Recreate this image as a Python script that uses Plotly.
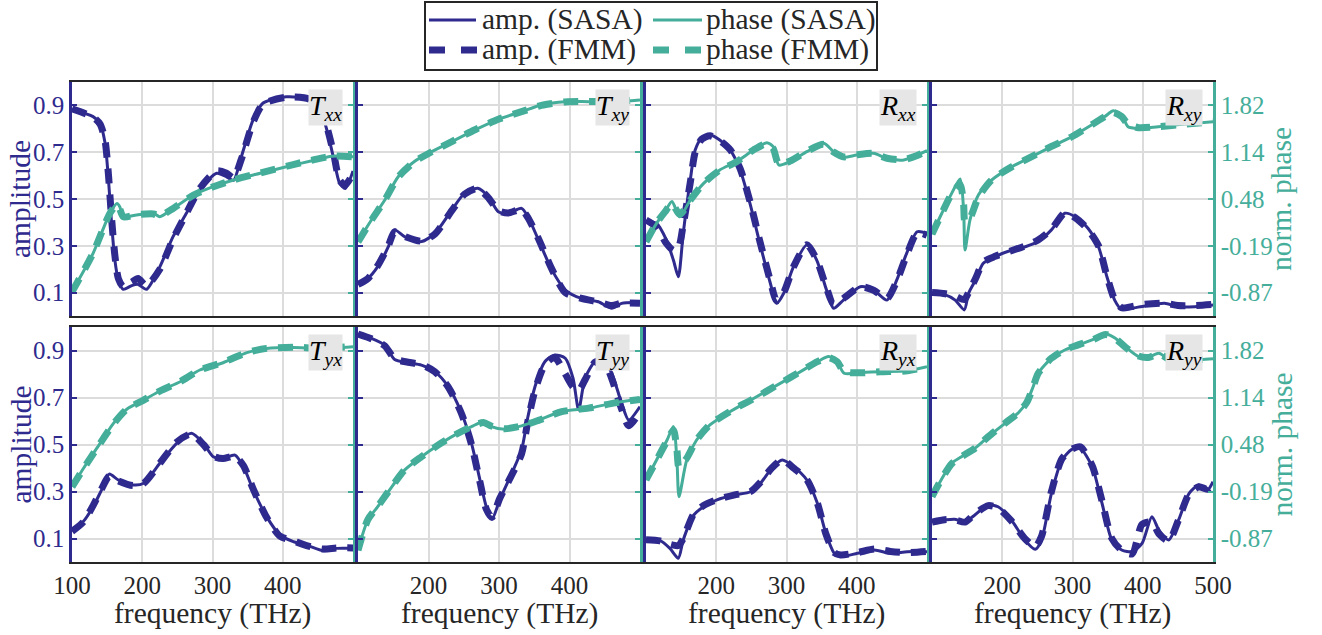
import plotly.graph_objects as go

# ---------------------------------------------------------------- data
# frequency in THz, amplitude in [0, 1], phase in normalised units

# T_xx
txx_f_amp = [100, 130, 140, 147, 152, 156, 161, 166, 173, 185, 194, 206, 225, 244, 263, 282, 306, 320, 330, 341, 358, 372, 405, 439, 458, 472, 481, 489, 500]
txx_amp_sasa = [0.883, 0.852, 0.823, 0.74, 0.58, 0.41, 0.24, 0.154, 0.114, 0.13, 0.135, 0.114, 0.21, 0.34, 0.44, 0.54, 0.61, 0.595, 0.58, 0.68, 0.84, 0.91, 0.937, 0.923, 0.84, 0.68, 0.567, 0.545, 0.62]
txx_amp_fmm = [0.885, 0.85, 0.82, 0.75, 0.6, 0.43, 0.26, 0.16, 0.125, 0.145, 0.16, 0.13, 0.2, 0.33, 0.44, 0.545, 0.62, 0.61, 0.59, 0.67, 0.83, 0.905, 0.935, 0.925, 0.85, 0.7, 0.58, 0.56, 0.61]
txx_f_ph = [100, 130, 154, 164, 168, 173, 192, 216, 225, 244, 273, 301, 330, 368, 415, 440, 470, 500]
txx_ph_sasa = [-0.856, -0.305, 0.27, 0.41, 0.365, 0.22, 0.246, 0.27, 0.22, 0.34, 0.533, 0.653, 0.748, 0.845, 0.963, 1.02, 1.09, 1.083]
txx_ph_fmm = [-0.86, -0.3, 0.27, 0.39, 0.33, 0.22, 0.25, 0.26, 0.23, 0.34, 0.53, 0.65, 0.75, 0.85, 0.97, 1.03, 1.09, 1.08]

# T_xy
txy_f_amp = [100, 114, 128, 143, 152, 166, 190, 209, 233, 251, 270, 285, 299, 313, 332, 341, 356, 375, 394, 417, 441, 460, 474, 500]
txy_amp_sasa = [0.14, 0.161, 0.211, 0.296, 0.368, 0.339, 0.318, 0.353, 0.453, 0.524, 0.546, 0.51, 0.446, 0.439, 0.46, 0.424, 0.325, 0.197, 0.111, 0.075, 0.061, 0.033, 0.054, 0.057]
txy_amp_fmm = [0.135, 0.16, 0.215, 0.3, 0.36, 0.34, 0.32, 0.35, 0.45, 0.52, 0.545, 0.505, 0.45, 0.44, 0.455, 0.42, 0.33, 0.2, 0.1, 0.075, 0.06, 0.045, 0.055, 0.055]
txy_f_ph = [100, 119, 138, 157, 180, 204, 233, 266, 299, 332, 360, 394, 427, 465, 500]
txy_ph_sasa = [-0.137, 0.173, 0.46, 0.795, 1.013, 1.155, 1.299, 1.467, 1.619, 1.73, 1.826, 1.874, 1.874, 1.874, 1.897]
txy_ph_fmm = [-0.14, 0.17, 0.46, 0.79, 1.01, 1.15, 1.3, 1.47, 1.62, 1.73, 1.82, 1.87, 1.875, 1.88, 1.9]

# R_xx
rxx_f_amp = [100, 115, 129, 139, 146, 153, 163, 170, 179, 191, 205, 220, 234, 248, 262, 277, 286, 296, 310, 329, 343, 357, 367, 381, 405, 424, 443, 457, 471, 486, 500]
rxx_amp_sasa = [0.403, 0.396, 0.325, 0.239, 0.168, 0.353, 0.581, 0.709, 0.759, 0.773, 0.752, 0.709, 0.624, 0.481, 0.311, 0.14, 0.054, 0.097, 0.211, 0.303, 0.239, 0.111, 0.033, 0.068, 0.125, 0.111, 0.068, 0.154, 0.268, 0.36, 0.353]
rxx_amp_fmm = [0.41, 0.38, 0.31, 0.28, 0.29, 0.39, 0.57, 0.7, 0.755, 0.77, 0.75, 0.71, 0.63, 0.49, 0.32, 0.15, 0.065, 0.1, 0.21, 0.305, 0.24, 0.12, 0.05, 0.075, 0.125, 0.11, 0.075, 0.15, 0.26, 0.355, 0.345]
rxx_f_ph = [100, 115, 127, 137, 148, 163, 182, 205, 229, 253, 272, 281, 289, 305, 329, 353, 367, 381, 400, 424, 443, 467, 486, 500]
rxx_ph_sasa = [-0.137, 0.125, 0.293, 0.438, 0.22, 0.46, 0.7, 0.892, 1.013, 1.178, 1.285, 1.228, 0.963, 1.013, 1.155, 1.275, 1.155, 1.074, 1.107, 1.131, 1.06, 1.036, 1.107, 1.171]
rxx_ph_fmm = [-0.14, 0.13, 0.29, 0.41, 0.25, 0.46, 0.7, 0.89, 1.01, 1.18, 1.27, 1.2, 0.98, 1.02, 1.16, 1.26, 1.15, 1.08, 1.11, 1.13, 1.06, 1.04, 1.1, 1.17]

# R_xy
rxy_f_amp = [100, 119, 133, 146, 152, 162, 173, 190, 214, 233, 251, 270, 289, 304, 322, 337, 349, 360, 370, 384, 403, 431, 450, 474, 500]
rxy_amp_sasa = [0.097, 0.09, 0.068, 0.026, 0.097, 0.154, 0.225, 0.254, 0.282, 0.296, 0.318, 0.368, 0.439, 0.424, 0.375, 0.296, 0.168, 0.068, 0.028, 0.033, 0.043, 0.054, 0.04, 0.04, 0.047]
rxy_amp_fmm = [0.1, 0.095, 0.085, 0.07, 0.1, 0.16, 0.23, 0.255, 0.28, 0.3, 0.325, 0.37, 0.44, 0.42, 0.37, 0.3, 0.17, 0.07, 0.035, 0.04, 0.05, 0.055, 0.045, 0.045, 0.05]
rxy_f_ph = [100, 114, 128, 140, 145, 147, 154, 166, 185, 214, 242, 270, 299, 327, 346, 358, 370, 379, 394, 422, 460, 500]
rxy_ph_sasa = [-0.029, 0.27, 0.556, 0.762, 0.317, -0.258, 0.173, 0.533, 0.748, 0.94, 1.083, 1.228, 1.37, 1.538, 1.659, 1.743, 1.682, 1.514, 1.491, 1.514, 1.551, 1.585]
rxy_ph_fmm = [-0.03, 0.27, 0.55, 0.68, 0.4, 0.15, 0.2, 0.5, 0.75, 0.94, 1.085, 1.23, 1.37, 1.54, 1.66, 1.72, 1.66, 1.55, 1.5, 1.515, 1.55, 1.585]

# T_yx
tyx_f_amp = [100, 116, 130, 142, 153, 166, 187, 202, 225, 249, 270, 287, 301, 315, 332, 344, 358, 377, 396, 415, 434, 458, 477, 500]
tyx_amp_sasa = [0.136, 0.172, 0.235, 0.306, 0.374, 0.349, 0.328, 0.335, 0.42, 0.505, 0.548, 0.505, 0.448, 0.441, 0.455, 0.406, 0.306, 0.193, 0.115, 0.087, 0.072, 0.048, 0.058, 0.058]
tyx_amp_fmm = [0.13, 0.17, 0.24, 0.31, 0.365, 0.345, 0.325, 0.335, 0.42, 0.51, 0.545, 0.5, 0.45, 0.44, 0.45, 0.41, 0.31, 0.19, 0.11, 0.09, 0.07, 0.055, 0.06, 0.06]
tyx_f_ph = [100, 121, 140, 159, 178, 202, 225, 254, 282, 315, 349, 377, 415, 453, 500]
tyx_ph_sasa = [-0.127, 0.206, 0.492, 0.778, 0.98, 1.111, 1.241, 1.373, 1.541, 1.645, 1.79, 1.85, 1.863, 1.85, 1.874]
tyx_ph_fmm = [-0.13, 0.2, 0.49, 0.77, 0.98, 1.11, 1.24, 1.375, 1.54, 1.65, 1.79, 1.85, 1.865, 1.855, 1.875]

# T_yy
tyy_f_amp = [100, 119, 138, 152, 171, 190, 209, 228, 247, 261, 273, 282, 290, 301, 318, 332, 341, 351, 365, 379, 394, 405, 413, 422, 436, 448, 460, 474, 484, 500]
tyy_amp_sasa = [0.97, 0.952, 0.923, 0.862, 0.848, 0.838, 0.81, 0.746, 0.633, 0.505, 0.349, 0.235, 0.182, 0.264, 0.377, 0.477, 0.618, 0.746, 0.852, 0.881, 0.867, 0.782, 0.647, 0.782, 0.852, 0.862, 0.803, 0.675, 0.604, 0.661]
tyy_amp_fmm = [0.97, 0.95, 0.92, 0.865, 0.85, 0.84, 0.81, 0.745, 0.63, 0.5, 0.34, 0.225, 0.19, 0.27, 0.37, 0.46, 0.6, 0.73, 0.84, 0.87, 0.8, 0.745, 0.73, 0.775, 0.85, 0.86, 0.78, 0.65, 0.58, 0.64]
tyy_f_ph = [100, 114, 128, 143, 166, 190, 214, 237, 261, 278, 289, 308, 332, 356, 389, 427, 465, 500]
tyy_ph_sasa = [-1.034, -0.604, -0.415, -0.2, 0.109, 0.3, 0.468, 0.61, 0.731, 0.802, 0.731, 0.694, 0.741, 0.825, 0.946, 0.993, 1.074, 1.121]
tyy_ph_fmm = [-1.04, -0.6, -0.41, -0.2, 0.11, 0.3, 0.47, 0.61, 0.73, 0.79, 0.74, 0.7, 0.74, 0.82, 0.945, 0.995, 1.07, 1.12]

# R_yx
ryx_f_amp = [100, 120, 134, 146, 153, 168, 182, 201, 225, 249, 263, 279, 294, 310, 329, 344, 356, 368, 377, 401, 425, 448, 472, 500]
ryx_amp_sasa = [0.094, 0.091, 0.058, 0.016, 0.094, 0.2, 0.235, 0.264, 0.285, 0.299, 0.335, 0.399, 0.434, 0.406, 0.349, 0.25, 0.122, 0.037, 0.023, 0.037, 0.051, 0.037, 0.044, 0.044]
ryx_amp_fmm = [0.095, 0.09, 0.075, 0.07, 0.1, 0.205, 0.24, 0.265, 0.285, 0.3, 0.34, 0.4, 0.435, 0.4, 0.35, 0.25, 0.12, 0.04, 0.03, 0.04, 0.055, 0.045, 0.04, 0.045]
ryx_f_ph = [100, 115, 130, 139, 144, 147, 158, 172, 191, 220, 253, 291, 320, 344, 360, 372, 382, 406, 434, 472, 500]
ryx_ph_sasa = [-0.032, 0.253, 0.539, 0.731, 0.253, -0.271, 0.253, 0.539, 0.755, 0.946, 1.134, 1.35, 1.518, 1.659, 1.733, 1.659, 1.494, 1.504, 1.517, 1.531, 1.588]
ryx_ph_fmm = [-0.03, 0.25, 0.53, 0.68, 0.4, 0.15, 0.28, 0.54, 0.76, 0.95, 1.13, 1.35, 1.52, 1.66, 1.72, 1.66, 1.52, 1.5, 1.515, 1.53, 1.585]

# R_yy
ryy_f_amp = [100, 118, 132, 147, 161, 180, 194, 213, 232, 247, 256, 270, 285, 299, 311, 328, 342, 356, 370, 385, 399, 413, 423, 437, 451, 466, 480, 492, 500]
ryy_amp_sasa = [0.172, 0.179, 0.182, 0.172, 0.2, 0.243, 0.235, 0.179, 0.094, 0.054, 0.094, 0.292, 0.434, 0.479, 0.484, 0.406, 0.25, 0.094, 0.051, 0.044, 0.079, 0.193, 0.136, 0.094, 0.179, 0.292, 0.328, 0.306, 0.342]
ryy_amp_fmm = [0.17, 0.18, 0.18, 0.17, 0.205, 0.24, 0.23, 0.175, 0.1, 0.065, 0.11, 0.3, 0.44, 0.48, 0.49, 0.41, 0.26, 0.1, 0.05, 0.035, 0.16, 0.17, 0.12, 0.09, 0.18, 0.29, 0.32, 0.31, 0.34]
ryy_f_ph = [100, 113, 128, 142, 161, 180, 204, 223, 235, 244, 251, 270, 289, 308, 328, 347, 361, 375, 394, 408, 423, 437, 451, 470, 500]
ryy_ph_sasa = [-0.271, -0.032, 0.206, 0.3, 0.421, 0.586, 0.778, 0.929, 1.087, 1.302, 1.494, 1.709, 1.827, 1.898, 1.971, 2.056, 1.995, 1.874, 1.733, 1.723, 1.78, 1.693, 1.659, 1.679, 1.703]
ryy_ph_fmm = [-0.27, -0.03, 0.2, 0.3, 0.42, 0.585, 0.78, 0.93, 1.08, 1.3, 1.49, 1.71, 1.83, 1.9, 1.97, 2.05, 1.99, 1.87, 1.74, 1.72, 1.77, 1.7, 1.66, 1.68, 1.7]

panel_names = [("T", "xx"), ("T", "xy"), ("R", "xx"), ("R", "xy"),
               ("T", "yx"), ("T", "yy"), ("R", "yx"), ("R", "yy")]
panel_data = [
    (txx_f_amp, txx_amp_sasa, txx_amp_fmm, txx_f_ph, txx_ph_sasa, txx_ph_fmm),
    (txy_f_amp, txy_amp_sasa, txy_amp_fmm, txy_f_ph, txy_ph_sasa, txy_ph_fmm),
    (rxx_f_amp, rxx_amp_sasa, rxx_amp_fmm, rxx_f_ph, rxx_ph_sasa, rxx_ph_fmm),
    (rxy_f_amp, rxy_amp_sasa, rxy_amp_fmm, rxy_f_ph, rxy_ph_sasa, rxy_ph_fmm),
    (tyx_f_amp, tyx_amp_sasa, tyx_amp_fmm, tyx_f_ph, tyx_ph_sasa, tyx_ph_fmm),
    (tyy_f_amp, tyy_amp_sasa, tyy_amp_fmm, tyy_f_ph, tyy_ph_sasa, tyy_ph_fmm),
    (ryx_f_amp, ryx_amp_sasa, ryx_amp_fmm, ryx_f_ph, ryx_ph_sasa, ryx_ph_fmm),
    (ryy_f_amp, ryy_amp_sasa, ryy_amp_fmm, ryy_f_ph, ryy_ph_sasa, ryy_ph_fmm),
]

amp_ticks = [0.1, 0.3, 0.5, 0.7, 0.9]
amp_range = [0.0, 1.0]
phase_ticktext = ["-0.87", "-0.19", "0.48", "1.14", "1.82"]
phase_lo, phase_hi = -0.87, 1.82          # phase values sitting on amplitude 0.1 and 0.9
freq_range = [100, 500]

# ---------------------------------------------------------------- style
W, H = 1322, 635
BLUE = "#2E2A8E"
TEAL = "#45AE9A"
DARK = "#262626"
GRID = "#DCDCDC"
FONT = "Liberation Serif"
TICK_SIZE = 25
TITLE_SIZE = 29.5
SOLID_W = 3
DASH_W = 7
DASH = "15px,11px"

col_px = [(72, 353), (358, 640), (646, 927), (932, 1213)]
row_px = [(82, 316), (327, 562)]

# phase axis: linear map so that phase_lo/phase_hi align with 0.1/0.9 amplitude
slope = (phase_hi - phase_lo) / (amp_ticks[-1] - amp_ticks[0])
phase_range = [phase_lo + (amp_range[0] - amp_ticks[0]) * slope,
               phase_lo + (amp_range[1] - amp_ticks[0]) * slope]
phase_tickvals = [phase_lo + (t - amp_ticks[0]) * slope for t in amp_ticks]


def px_x(p):
    return p / W


def px_y(p):
    return 1 - p / H


fig = go.Figure()
layout = dict(
    template="none",
    width=W, height=H, margin=dict(l=0, r=0, t=0, b=0, pad=0, autoexpand=False),
    paper_bgcolor="white", plot_bgcolor="white", showlegend=False,
    font=dict(family=FONT, color=DARK),
)
shapes, annotations = [], []

for i, ((letter, sub), data) in enumerate(zip(panel_names, panel_data)):
    r, c = divmod(i, 4)
    n = i + 1
    xid = "x" if n == 1 else f"x{n}"
    ya_id = 2 * i + 1
    yp_id = 2 * i + 2
    ya = "y" if ya_id == 1 else f"y{ya_id}"
    yp = f"y{yp_id}"
    f_amp, amp_sasa, amp_fmm, f_ph, ph_sasa, ph_fmm = data

    fig.add_trace(go.Scatter(x=f_amp, y=amp_fmm, xaxis=xid, yaxis=ya, mode="lines",
                             line=dict(color=BLUE, width=DASH_W, dash=DASH, shape="spline", smoothing=0.7),
                             name="amp. (FMM)"))
    fig.add_trace(go.Scatter(x=f_amp, y=amp_sasa, xaxis=xid, yaxis=ya, mode="lines",
                             line=dict(color=BLUE, width=SOLID_W, shape="spline", smoothing=0.7),
                             name="amp. (SASA)"))
    fig.add_trace(go.Scatter(x=f_ph, y=ph_fmm, xaxis=xid, yaxis=yp, mode="lines",
                             line=dict(color=TEAL, width=DASH_W, dash=DASH, shape="spline", smoothing=0.7),
                             name="phase (FMM)"))
    fig.add_trace(go.Scatter(x=f_ph, y=ph_sasa, xaxis=xid, yaxis=yp, mode="lines",
                             line=dict(color=TEAL, width=SOLID_W, shape="spline", smoothing=0.7),
                             name="phase (SASA)"))

    x0, x1 = col_px[c]
    y0, y1 = row_px[r]
    if c == 0:
        xticks = [100, 200, 300, 400]
    elif c == 3:
        xticks = [200, 300, 400, 500]
    else:
        xticks = [200, 300, 400]

    layout["xaxis" if n == 1 else f"xaxis{n}"] = dict(
        domain=[px_x(x0), px_x(x1)], anchor=ya, range=freq_range, automargin=False,
        tickvals=xticks, showticklabels=(r == 1), ticks="",
        tickfont=dict(family=FONT, size=TICK_SIZE, color=DARK),
        showline=True, linecolor=DARK, linewidth=2, mirror=True,
        showgrid=True, gridcolor=GRID, gridwidth=1.5, zeroline=False,
    )
    layout["yaxis" if ya_id == 1 else f"yaxis{ya_id}"] = dict(
        domain=[px_y(y1), px_y(y0)], anchor=xid, side="left", range=amp_range, automargin=False,
        tickvals=amp_ticks, ticktext=[f"{t:.1f}" for t in amp_ticks],
        ticks="inside", ticklen=5, tickwidth=1.5, tickcolor=BLUE,
        showticklabels=(c == 0),
        tickfont=dict(family=FONT, size=TICK_SIZE, color=BLUE),
        showline=True, linecolor=BLUE, linewidth=2.5,
        showgrid=True, gridcolor=GRID, gridwidth=1.5, zeroline=False,
    )
    layout[f"yaxis{yp_id}"] = dict(
        overlaying=ya, anchor=xid, side="right", range=phase_range, automargin=False,
        tickvals=phase_tickvals, ticktext=phase_ticktext,
        ticks="inside", ticklen=5, tickwidth=1.5, tickcolor=TEAL,
        showticklabels=(c == 3),
        tickfont=dict(family=FONT, size=TICK_SIZE, color=TEAL),
        showline=True, linecolor=TEAL, linewidth=2.5,
        showgrid=False, zeroline=False,
    )

    # panel tag in a grey box at the upper right corner
    bw, bh = x1 - x0, y1 - y0
    annotations.append(dict(xref=f"{xid} domain", yref=f"{ya} domain",
                            x=1 - 10 / bw, y=1 - 7 / bh, xanchor="right", yanchor="top",
                            text=f"<i>{letter}</i><sub><i>{sub}</i></sub>", showarrow=False,
                            bgcolor="#E6E6E6", borderpad=0,
                            font=dict(family=FONT, size=28, color="black")))

    if r == 1:
        annotations.append(dict(xref="paper", yref="paper", x=px_x((x0 + x1) / 2), y=px_y(613),
                                xanchor="center", yanchor="middle", text="frequency (THz)",
                                showarrow=False, font=dict(family=FONT, size=TITLE_SIZE, color=DARK)))
    if c == 0:
        annotations.append(dict(xref="paper", yref="paper", x=px_x(20), y=px_y((y0 + y1) / 2),
                                xanchor="center", yanchor="middle", text="amplitude", textangle=-90,
                                showarrow=False, font=dict(family=FONT, size=TITLE_SIZE, color=BLUE)))
    if c == 3:
        annotations.append(dict(xref="paper", yref="paper", x=px_x(1281), y=px_y((y0 + y1) / 2),
                                xanchor="center", yanchor="middle", text="norm. phase", textangle=-90,
                                showarrow=False, font=dict(family=FONT, size=TITLE_SIZE, color=TEAL)))

# ---------------------------------------------------------------- legend box
legend_items = [
    ("amp. (SASA)", BLUE, SOLID_W, "solid", 429, 476, 480, 20),
    ("amp. (FMM)", BLUE, DASH_W, "16px,16px", 429, 477, 480, 50),
    ("phase (SASA)", TEAL, SOLID_W, "solid", 653, 702, 704, 20),
    ("phase (FMM)", TEAL, DASH_W, "16px,16px", 653, 703, 704, 50),
]
shapes.append(dict(type="rect", xref="paper", yref="paper",
                   x0=px_x(425), x1=px_x(877), y0=px_y(70), y1=px_y(2),
                   fillcolor="white", line=dict(color=DARK, width=2)))
for label, color, lw, dash, lx0, lx1, tx, ty in legend_items:
    shapes.append(dict(type="line", xref="paper", yref="paper",
                       x0=px_x(lx0), x1=px_x(lx1), y0=px_y(ty), y1=px_y(ty),
                       line=dict(color=color, width=lw, dash=dash)))
    annotations.append(dict(xref="paper", yref="paper", x=px_x(tx), y=px_y(ty),
                            xanchor="left", yanchor="middle", text=label, showarrow=False,
                            font=dict(family=FONT, size=TITLE_SIZE, color=DARK)))

layout["shapes"] = shapes
layout["annotations"] = annotations
fig.update_layout(**layout)
fig.write_html("out.html")
